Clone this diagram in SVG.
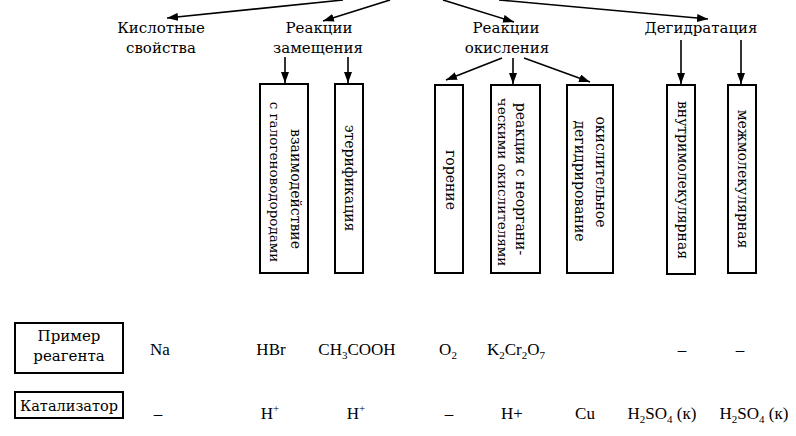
<svg xmlns="http://www.w3.org/2000/svg" width="796" height="436" viewBox="0 0 796 436">
<defs>
<marker id="ah" markerWidth="12" markerHeight="8" refX="11" refY="4" orient="auto" markerUnits="userSpaceOnUse">
<path d="M0,0 L11,4 L0,8 Z" fill="#000"/>
</marker>
<style>
text{font-family:"Liberation Serif","DejaVu Serif",serif;font-size:17px;fill:#000;text-anchor:middle}
.cy{font-family:"DejaVu Serif","Liberation Serif",serif;font-size:15px}
.vt{font-family:"DejaVu Serif","Liberation Serif",serif;font-size:14px}
.box{fill:#fff;stroke:#000;stroke-width:2}
.ln{stroke:#000;stroke-width:1.6;fill:none;marker-end:url(#ah)}
.sub{font-size:11px}
</style>
</defs>
<rect width="796" height="436" fill="#fff"/>
<g id="connectors">
<line class="ln" x1="343" y1="0" x2="167" y2="18"/>
<line class="ln" x1="390" y1="0" x2="323" y2="21"/>
<line class="ln" x1="443" y1="0" x2="514" y2="22"/>
<line class="ln" x1="499" y1="0" x2="708" y2="19"/>
<line class="ln" x1="285" y1="57" x2="285" y2="83"/>
<line class="ln" x1="348" y1="57" x2="348" y2="83"/>
<line class="ln" x1="502" y1="58" x2="446" y2="80"/>
<line class="ln" x1="513" y1="58" x2="513" y2="84"/>
<line class="ln" x1="524" y1="58" x2="590" y2="82"/>
<line class="ln" x1="681" y1="40" x2="681" y2="84"/>
<line class="ln" x1="741" y1="40" x2="741" y2="84"/>
</g>
<g id="kislotnye">
<text class="cy" x="161" y="33">Кислотные</text>
<text class="cy" x="161" y="53">свойства</text>
</g>
<g id="zameshchenie">
<text class="cy" x="319" y="33">Реакции</text>
<text class="cy" x="318" y="53">замещения</text>
</g>
<g id="okislenie">
<text class="cy" x="506" y="33">Реакции</text>
<text class="cy" x="507" y="53">окисления</text>
</g>
<g id="degidratatsiya">
<text class="cy" x="701" y="33">Дегидратация</text>
</g>
<g id="box1">
<rect class="box" x="260" y="84" width="48" height="189"/>
<text class="vt" transform="translate(291,189) rotate(90)">взаимодействие</text>
<text class="vt" transform="translate(270,182) rotate(90)" style="font-size:13.5px">с галогеноводородами</text>
</g>
<g id="box2">
<rect class="box" x="335" y="84" width="28" height="189"/>
<text class="vt" transform="translate(345,178) rotate(90)">этерификация</text>
</g>
<g id="box3">
<rect class="box" x="435" y="85" width="28" height="188"/>
<text class="vt" transform="translate(446,180) rotate(90)">горение</text>
</g>
<g id="box4">
<rect class="box" x="491" y="85" width="49" height="188"/>
<text class="vt" transform="translate(516,179) rotate(90)">реакция с неоргани-</text>
<text class="vt" transform="translate(498,182) rotate(90)" style="font-size:13.5px">ческими окислителями</text>
</g>
<g id="box5">
<rect class="box" x="567" y="85" width="46" height="188"/>
<text class="vt" transform="translate(596,172) rotate(90)">окислительное</text>
<text class="vt" transform="translate(575,181) rotate(90)">дегидрирование</text>
</g>
<g id="box6">
<rect class="box" x="667" y="85" width="28" height="189"/>
<text class="vt" transform="translate(678,180) rotate(90)">внутримолекулярная</text>
</g>
<g id="box7">
<rect class="box" x="728" y="85" width="28" height="188"/>
<text class="vt" transform="translate(738,179) rotate(90)">межмолекулярная</text>
</g>
<g id="primer">
<rect class="box" x="15" y="323" width="108" height="50"/>
<text class="cy" x="69" y="341">Пример</text>
<text class="cy" x="69" y="361">реагента</text>
</g>
<g id="katalizator">
<rect class="box" x="15" y="392" width="108" height="26"/>
<text class="cy" x="69" y="411" style="font-size:14.5px">Катализатор</text>
</g>
<g id="row1">
<text x="160" y="355">Na</text>
<text x="271" y="355">HBr</text>
<text x="357" y="355">CH<tspan class="sub" dy="4">3</tspan><tspan dy="-4">COOH</tspan></text>
<text x="448" y="355">O<tspan class="sub" dy="4">2</tspan></text>
<text x="516" y="355">K<tspan class="sub" dy="4">2</tspan><tspan dy="-4">Cr</tspan><tspan class="sub" dy="4">2</tspan><tspan dy="-4">O</tspan><tspan class="sub" dy="4">7</tspan></text>
<text x="682" y="355">–</text>
<text x="740" y="355">–</text>
</g>
<g id="row2">
<text x="158" y="419">–</text>
<text x="270" y="419">H<tspan class="sub" dy="-7">+</tspan></text>
<text x="356" y="419">H<tspan class="sub" dy="-7">+</tspan></text>
<text x="449" y="419">–</text>
<text x="512" y="419">H+</text>
<text x="585" y="419">Cu</text>
<text x="662" y="419">H<tspan class="sub" dy="4">2</tspan><tspan dy="-4">SO</tspan><tspan class="sub" dy="4">4</tspan><tspan dy="-4"> (к)</tspan></text>
<text x="754" y="419">H<tspan class="sub" dy="4">2</tspan><tspan dy="-4">SO</tspan><tspan class="sub" dy="4">4</tspan><tspan dy="-4"> (к)</tspan></text>
</g>
</svg>
